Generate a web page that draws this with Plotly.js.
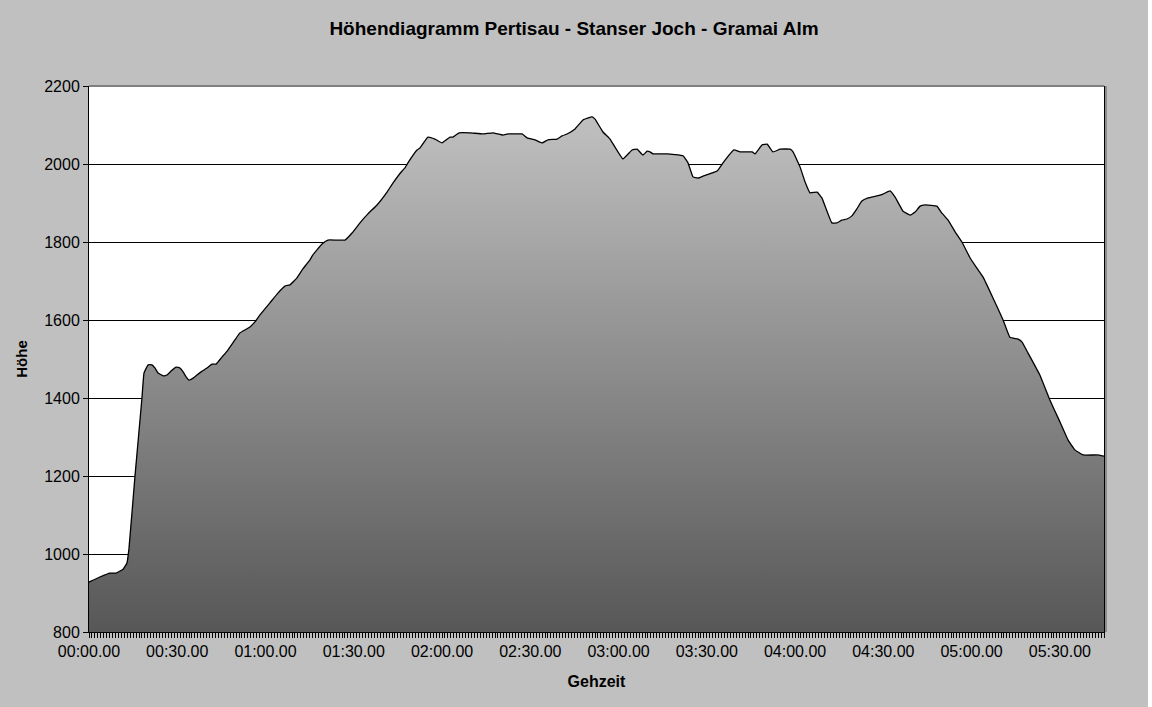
<!DOCTYPE html>
<html>
<head>
<meta charset="utf-8">
<script src="https://cdn.plot.ly/plotly-3.0.1.min.js"></script>
<style>
  html, body { margin: 0; padding: 0; background: #ffffff; }
  #chart { width: 1148px; height: 707px; }
</style>
</head>
<body>
<div id="chart"></div>
<script>
// Gehzeit in Minuten seit Start
const minutes = [0, 3.7, 7.1, 9.2, 11.6, 12.9, 13.6, 15.6, 18.0, 18.7, 20.1, 21.4, 22.4, 23.5, 25.2, 26.5, 27.9, 29.6,
  30.9, 32.0, 33.0, 34.0, 35.4, 36.7, 38.1, 40.1, 41.8, 43.2, 45.2, 47.2, 49.6, 51.3, 54.7, 56.4, 58.1,
  61.5, 64.2, 66.6, 68.3, 70.7, 72.7, 75.1, 76.1, 79.2, 81.2, 87.0, 89.4, 92.1, 94.8, 97.9, 101.3, 103.3,
  106.4, 107.4, 108.4, 111.5, 112.5, 115.2, 117.6, 120.0, 122.7, 123.7, 125.8, 129.5, 133.9, 137.3, 140.7,
  142.4, 147.2, 148.9, 151.6, 154.0, 156.0, 159.1, 160.8, 162.5, 165.2, 167.9, 171.0, 172.0, 174.7, 177.1,
  181.5, 184.6, 186.3, 188.3, 189.7, 190.7, 191.7, 196.5, 201.9, 203.6, 205.3, 207.0, 208.7, 213.5, 215.5,
  219.2, 221.3, 225.4, 226.4, 228.8, 230.5, 232.5, 234.9, 238.3, 239.3, 241.7, 243.4, 245.1, 247.5, 249.1,
  252.5, 254.2, 255.9, 257.6, 259.3, 261.0, 262.7, 264.8, 267.8, 269.9, 272.3, 274.0, 276.7, 279.1, 280.8,
  282.5, 284.2, 288.2, 289.9, 292.0, 294.4, 296.7, 299.5, 301.8, 303.9, 307.3, 310.7, 313.0, 315.8, 317.1,
  319.2, 323.2, 326.6, 329.4, 332.8, 335.1, 337.9, 342.6, 345.0];

// Höhe in Metern
const hoehe = [928, 941, 951, 951, 961, 977, 1015, 1197, 1400, 1464, 1485, 1485, 1477, 1464, 1457, 1459, 1469, 1479,
  1477, 1467, 1454, 1446, 1451, 1459, 1467, 1477, 1487, 1487, 1505, 1523, 1549, 1567, 1582, 1595, 1613,
  1644, 1669, 1687, 1690, 1708, 1731, 1754, 1767, 1795, 1805, 1805, 1823, 1849, 1872, 1895, 1928, 1951,
  1982, 1990, 2003, 2036, 2041, 2069, 2064, 2054, 2069, 2069, 2080, 2080, 2077, 2080, 2074,
  2077, 2077, 2067, 2062, 2054, 2062, 2064, 2072, 2077, 2090, 2113, 2121, 2115, 2082, 2064,
  2013, 2036, 2038, 2023, 2033, 2031, 2026, 2026, 2021, 2003, 1967, 1964, 1969, 1982, 2003,
  2036, 2031, 2031, 2026, 2049, 2051, 2031, 2038, 2038, 2031, 1992, 1954, 1926, 1928, 1913,
  1849, 1849, 1856, 1859, 1867, 1885, 1905, 1913, 1918, 1923, 1931, 1915, 1879, 1869, 1877,
  1892, 1895, 1892, 1874, 1856, 1826, 1800, 1759, 1733, 1710, 1656, 1600, 1556, 1551, 1544,
  1515, 1459, 1395, 1349, 1292, 1267, 1254, 1254, 1251];

const tickMinutes = [0, 30, 60, 90, 120, 150, 180, 210, 240, 270, 300, 330];
const tickLabels = ['00:00.00', '00:30.00', '01:00.00', '01:30.00', '02:00.00', '02:30.00',
  '03:00.00', '03:30.00', '04:00.00', '04:30.00', '05:00.00', '05:30.00'];
const yTicks = [800, 1000, 1200, 1400, 1600, 1800, 2000, 2200];

const font = 'Arial, "Liberation Sans", sans-serif';

const trace = {
  x: minutes,
  y: hoehe,
  type: 'scatter',
  mode: 'lines',
  line: { color: '#000000', width: 1.3, shape: 'spline', smoothing: 0.3 },
  fill: 'tozeroy',
  fillgradient: {
    type: 'vertical',
    start: 800,
    stop: 2150,
    colorscale: [[0, '#575757'], [1, '#c2c2c2']]
  },
  hoverinfo: 'skip'
};

const layout = {
  width: 1148,
  height: 707,
  paper_bgcolor: '#c0c0c0',
  plot_bgcolor: '#ffffff',
  margin: { l: 89, r: 44, t: 86, b: 75 },
  showlegend: false,
  title: {
    text: 'Höhendiagramm Pertisau - Stanser Joch - Gramai Alm',
    font: { family: font, size: 19, color: '#000000', weight: 'bold' },
    x: 0.5, xanchor: 'center', y: 0.96, yanchor: 'middle'
  },
  xaxis: {
    range: [0, 345],
    tickvals: tickMinutes,
    ticktext: tickLabels,
    ticks: 'outside', ticklen: 5, tickcolor: '#000000', tickwidth: 1,
    minor: { dtick: 1, tick0: 0, ticks: 'outside', ticklen: 5, tickcolor: '#000000', tickwidth: 1, showgrid: false },
    showline: true, linecolor: '#000000', linewidth: 1,
    showgrid: false, zeroline: false,
    tickfont: { family: font, size: 16, color: '#000000' },
    title: { text: 'Gehzeit', font: { family: font, size: 16, color: '#000000', weight: 'bold' }, standoff: 16 }
  },
  yaxis: {
    range: [800, 2200],
    tickvals: yTicks,
    ticks: 'outside', ticklen: 5, tickcolor: '#000000', tickwidth: 1,
    showline: true, linecolor: '#000000', linewidth: 1, mirror: true,
    showgrid: true, gridcolor: '#000000', gridwidth: 1,
    zeroline: false,
    tickfont: { family: font, size: 16, color: '#000000' },
    title: { text: 'Höhe', font: { family: font, size: 15, color: '#000000', weight: 'bold' }, standoff: 12 }
  },
  shapes: [
    { type: 'line', xref: 'paper', yref: 'paper', x0: 0, x1: 1, y0: 1, y1: 1,
      line: { color: '#808080', width: 2 } },
    { type: 'rect', xref: 'paper', yref: 'paper', xsizemode: 'pixel', xanchor: 1, x0: 1, x1: 3, y0: 0, y1: 1,
      fillcolor: '#8c8c8c', line: { width: 0 } }
  ]
};

Plotly.newPlot('chart', [trace], layout, { displayModeBar: false, staticPlot: true });
</script>
</body>
</html>
